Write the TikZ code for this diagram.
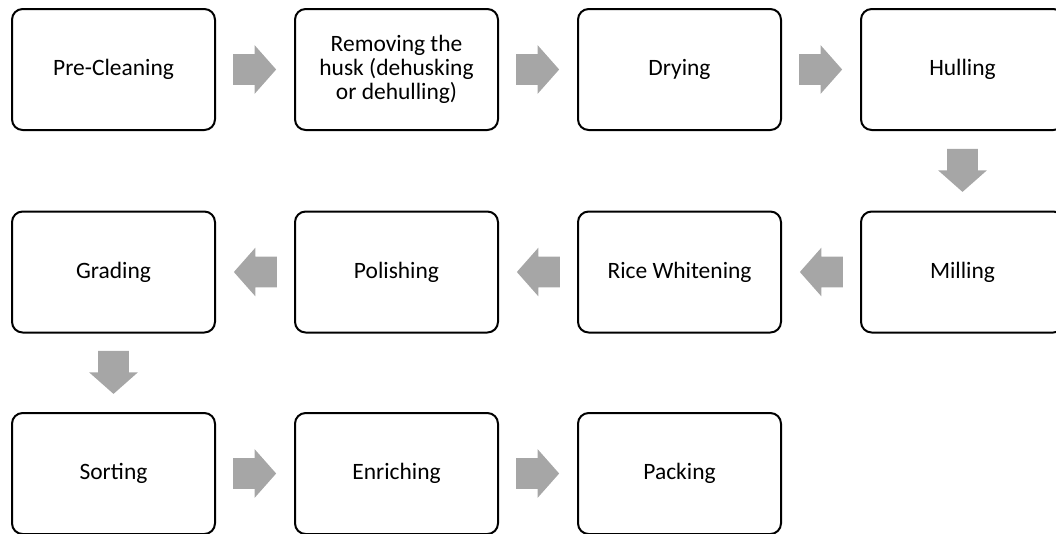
\documentclass[tikz,border=0pt]{standalone}
\usepackage{fontspec}
\setmainfont{Carlito}
\usetikzlibrary{shapes.arrows,calc}
\definecolor{flowgray}{HTML}{A6A6A6}
\tikzset{
  stage/.style={draw, line width=1.5pt, rounded corners=8pt,
    minimum width=152.25pt, minimum height=90.75pt, align=center,
    font=\fontsize{17.6}{18}\selectfont},
  flow/.style={single arrow, fill=flowgray, draw=none, anchor=tip,
    minimum height=32.25pt, minimum width=36pt,
    single arrow head extend=6.75pt, single arrow tip angle=97},
  flow right/.style={flow, inner xsep=0pt, inner ysep=11.25pt},
  flow left/.style={flow right, shape border rotate=180},
  flow down/.style={flow, inner xsep=11.25pt, inner ysep=0pt, shape border rotate=270}
}
\begin{document}
\begin{tikzpicture}[x=0.75pt,y=-0.75pt]
        \useasboundingbox (0,0) rectangle (1056,533);
        % First row, left to right
        \node[stage] (pre)    at (113.5,69.5) {Pre-Cleaning};
        \node[stage] (husk)   at (396.5,69.5) {Removing the\\husk (dehusking\\or dehulling)};
        \node[stage] (dry)    at (679.5,69.5) {Drying};
        \node[stage] (hull)   at (962.5,69.5) {Hulling};
        % Second row, right to left
        \node[stage] (mill)   at (962.5,272) {Milling};
        \node[stage] (white)  at (679.5,272) {Rice Whitening};
        \node[stage] (polish) at (396.5,272) {Polishing};
        \node[stage] (grade)  at (113.5,272) {Grading};
        % Third row, left to right
        \node[stage] (sort)   at (113.5,473.5) {Sorting};
        \node[stage] (enrich) at (396.5,473.5) {Enriching};
        \node[stage] (pack)   at (679.5,473.5) {Packing};
        % Block arrows between the stages, tip placed half a length past the gap middle
        \foreach \a/\b/\dir in {pre.east/husk.west/right, husk.east/dry.west/right,
                                dry.east/hull.west/right, hull.south/mill.north/down,
                                mill.west/white.east/left, white.west/polish.east/left,
                                polish.west/grade.east/left, grade.south/sort.north/down,
                                sort.east/enrich.west/right, enrich.east/pack.west/right}
          \node[flow \dir] at ($($(\a)!0.5!(\b)$)!16.125pt!(\b)$) {};
\end{tikzpicture}
\end{document}
